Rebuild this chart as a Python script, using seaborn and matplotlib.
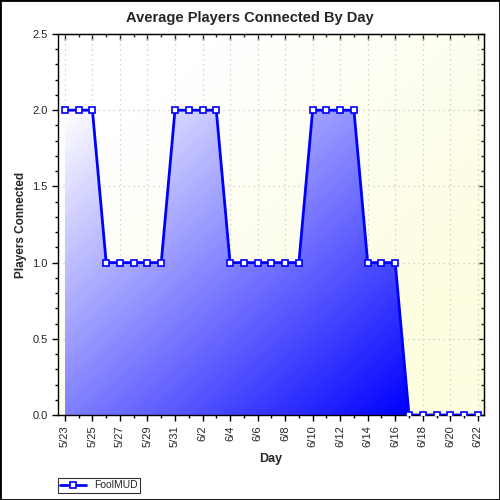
import numpy as np
import pandas as pd
import seaborn as sns
import matplotlib.pyplot as plt
from matplotlib.patches import Rectangle
from matplotlib.colors import LinearSegmentedColormap
from matplotlib.ticker import MultipleLocator, NullFormatter

# Data: 5/23 .. 6/22
days = ["5/23", "5/24", "5/25", "5/26", "5/27", "5/28", "5/29", "5/30", "5/31",
        "6/1", "6/2", "6/3", "6/4", "6/5", "6/6", "6/7", "6/8", "6/9", "6/10",
        "6/11", "6/12", "6/13", "6/14", "6/15", "6/16", "6/17", "6/18", "6/19",
        "6/20", "6/21", "6/22"]
players = [2, 2, 2, 1, 1, 1, 1, 1, 2, 2, 2, 2, 1, 1, 1, 1, 1, 1, 2, 2, 2, 2,
           1, 1, 1, 0, 0, 0, 0, 0, 0]

df = pd.DataFrame({"idx": np.arange(len(days)), "day": days, "players": players})

sns.set_style("ticks")
plt.rcParams['font.family'] = ['Liberation Sans', 'DejaVu Sans']

fig = plt.figure(figsize=(5, 5), dpi=100)
ax = fig.add_axes([0.116, 0.17, 0.852, 0.762])

xmin, xmax, ymin, ymax = -0.5, 30.45, 0, 2.5

# background gradient (white top-left -> pale yellow)
gx, gy = np.meshgrid(np.linspace(0, 1, 200), np.linspace(0, 1, 200))
bg = (gx + (1 - gy)) / 2
bg_cmap = LinearSegmentedColormap.from_list("bg", ["#ffffff", "#fdfde0"])
ax.imshow(bg, extent=[xmin, xmax, ymin, ymax], origin="lower", aspect="auto",
          cmap=bg_cmap, zorder=0, vmin=0.2, vmax=0.8)

# area fill with gradient
poly = ax.fill_between(df["idx"], df["players"], 0, color="none", zorder=1)
fill_cmap = LinearSegmentedColormap.from_list("fill", ["#ffffff", "#0000ff"])
img = ax.imshow(bg, extent=[0, 25, 0, 2.0], origin="lower", aspect="auto",
                cmap=fill_cmap, zorder=1, vmin=0, vmax=1)
img.set_clip_path(poly.get_paths()[0], transform=ax.transData)

ax.grid(True, which="major", color="#c8c8c8", linestyle=(0, (1, 3)), linewidth=0.9, zorder=0.5)

sns.lineplot(data=df, x="idx", y="players", ax=ax, color="#0000ff", linewidth=2,
             marker="s", markersize=5, markerfacecolor="white",
             markeredgecolor="#0000ff", markeredgewidth=1.2, label="FoolMUD", zorder=3)

ax.set_xlim(xmin, xmax)
ax.set_ylim(ymin, ymax)
ax.xaxis.set_minor_locator(MultipleLocator(1))
ax.yaxis.set_minor_locator(MultipleLocator(0.1))
ax.set_xticks(df["idx"][::2])
ax.set_xticklabels(df["day"][::2], rotation=90, fontsize=8)
ax.set_yticks([0, 0.5, 1.0, 1.5, 2.0, 2.5])
ax.set_yticklabels(["0.0", "0.5", "1.0", "1.5", "2.0", "2.5"], fontsize=8)
ax.tick_params(which="both", direction="out", length=4, width=1, color="black")
ax.tick_params(which="minor", length=2)
for s in ax.spines.values():
    s.set_color("black")
    s.set_linewidth(1)

# inward ticks on top and right
top = ax.secondary_xaxis("top")
top.set_xticks(df["idx"][::2])
top.xaxis.set_minor_locator(MultipleLocator(1))
top.xaxis.set_major_formatter(NullFormatter())
top.tick_params(which="both", direction="in", length=4, width=1)
top.tick_params(which="minor", length=2)
right = ax.secondary_yaxis("right")
right.set_yticks([0, 0.5, 1.0, 1.5, 2.0, 2.5])
right.yaxis.set_minor_locator(MultipleLocator(0.1))
right.yaxis.set_major_formatter(NullFormatter())
right.tick_params(which="both", direction="in", length=4, width=1)
right.tick_params(which="minor", length=2)

fig.text(0.5, 1 - 18 / 500, "Average Players Connected By Day", fontsize=10.5,
         fontweight="bold", ha="center", va="center")
ax.set_xlabel("Day", fontsize=9, fontweight="bold")
ax.set_ylabel("Players Connected", fontsize=8.5, fontweight="bold")

leg = ax.legend(loc="lower left", bbox_to_anchor=(0.116, 0.015), bbox_transform=fig.transFigure,
                frameon=True, fancybox=False, fontsize=7.5, borderpad=0.2, handlelength=2.5,
                borderaxespad=0)
leg.get_frame().set_edgecolor("black")
leg.get_frame().set_linewidth(0.8)

fig.patches.append(Rectangle((0, 0), 1, 1, transform=fig.transFigure, fill=False,
                             edgecolor="black", linewidth=2))

fig.savefig("out.png", dpi=100)
